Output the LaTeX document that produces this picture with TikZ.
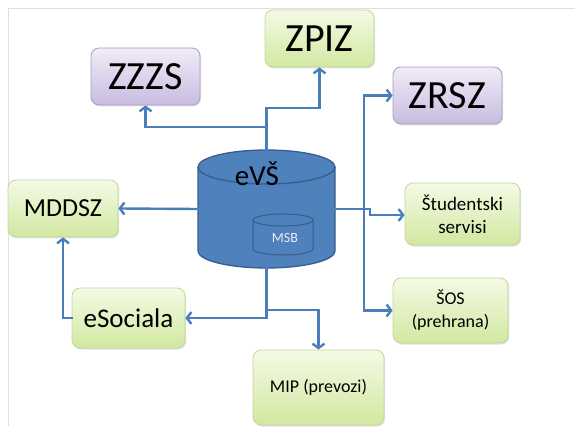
\documentclass[tikz,border=0pt]{standalone}
\usepackage{fontspec}
\setmainfont{Carlito}
\usepackage{tikz}
\usetikzlibrary{
    arrows.meta,
    shadows
}
\definecolor{linkBlue}{RGB}{74, 126, 187}
\definecolor{dbBlue}{RGB}{79, 129, 189}
\definecolor{dbEdge}{RGB}{56, 93, 138}
\definecolor{greenTop}{RGB}{244, 250, 230}
\definecolor{greenBot}{RGB}{210, 232, 160}
\definecolor{greenEdge}{RGB}{195, 214, 155}
\definecolor{lilaTop}{RGB}{240, 236, 248}
\definecolor{lilaBot}{RGB}{200, 188, 224}
\definecolor{lilaEdge}{RGB}{170, 155, 200}

\begin{document}
\begin{tikzpicture}[x=1pt, y=1pt,
        box/.style={rounded corners=8pt, line width=0.8pt, align=center,
            drop shadow={opacity=0.25, shadow xshift=1.2pt, shadow yshift=-1.5pt}},
        greenbox/.style={box, draw=greenEdge, top color=greenTop, bottom color=greenBot},
        lilabox/.style={box, draw=lilaEdge, top color=lilaTop, bottom color=lilaBot},
        wire/.style={draw=linkBlue, line width=2.4pt, line cap=rect},
        link/.style={wire, -{Straight Barb[length=4.5pt, width=12pt]}}
    ]
    \useasboundingbox (0,0) rectangle (575,426);
    \draw[gray!25, line width=1pt] (8,0) -- (8,417) -- (575,417);

    % database
    \node[minimum width=137pt, minimum height=118pt, inner sep=0] (evs) at (266.5,217) {};
    \begin{scope}[shift={(266.5,217)}, line width=1.3pt]
        \fill[dbBlue] (-68.5,42) -- (-68.5,-42) arc[start angle=180, end angle=360, x radius=68.5, y radius=17]
            -- (68.5,42) -- cycle;
        \draw[dbEdge] (-68.5,42) -- (-68.5,-42) arc[start angle=180, end angle=360, x radius=68.5, y radius=17]
            -- (68.5,42);
        \draw[dbEdge, fill=dbBlue] (0,42) ellipse[x radius=68.5, y radius=17];
        % inner store
        \draw[dbEdge, fill=dbBlue, line width=1pt] (-13.5,-11) -- (-13.5,-40)
            arc[start angle=180, end angle=360, x radius=30, y radius=6] -- (46.5,-11);
        \draw[dbEdge, fill=dbBlue, line width=1pt] (16.5,-11) ellipse[x radius=30, y radius=6];
    \end{scope}
    \node[font=\fontsize{29}{32}\selectfont] (evslabel) at (257,252) {eVŠ};
    \node[font=\fontsize{14}{16}\selectfont, text=white!92!black] (msb) at (285,188) {MSB};

    % outer systems
    \node[lilabox, minimum width=109pt, minimum height=57pt, font=\fontsize{40}{44}\selectfont] (zzzs) at (145.5,349.5) {ZZZS};
    \node[greenbox, minimum width=109pt, minimum height=57pt, font=\fontsize{40}{44}\selectfont] (zpiz) at (319.5,387.5) {ZPIZ};
    \node[lilabox, minimum width=109pt, minimum height=57pt, font=\fontsize{40}{44}\selectfont] (zrsz) at (447.5,330.5) {ZRSZ};
    \node[greenbox, minimum width=115pt, minimum height=62pt, font=\fontsize{19}{23}\selectfont] (stud) at (462.5,212) {Študentski\\servisi};
    \node[greenbox, minimum width=115pt, minimum height=65pt, font=\fontsize{18}{23}\selectfont] (sos) at (450.5,115.5) {ŠOS\\(prehrana)};
    \node[greenbox, minimum width=131pt, minimum height=75pt, font=\fontsize{18}{22}\selectfont] (mip) at (318.5,38.5) {MIP (prevozi)};
    \node[greenbox, minimum width=110pt, minimum height=57pt, font=\fontsize{26}{30}\selectfont] (mddsz) at (63,217.5) {MDDSZ};
    \node[greenbox, minimum width=113pt, minimum height=60pt, font=\fontsize{27}{30}\selectfont] (esoc) at (128.5,108) {eSociala};

    % connectors
    \coordinate (up) at (266.5,299);
    \coordinate (upr) at (266.5,318);
    \coordinate (rt) at (364,217);
    \coordinate (dn) at (266.5,116);
    \draw[wire] (evs.north) -- (up);
    \draw[link] (up) -| (zzzs.south);
    \draw[link] (up) -- (upr) -| (zpiz.south);
    \draw[wire] (evs.east) -- (370,217) -- (370,211);
    \draw[link] (370,211) -- (stud.west |- 0,211);
    \draw[link] (rt) |- (zrsz.west);
    \draw[link] (rt) |- (sos.west);
    \draw[link] (evs.west) -- (mddsz.east);
    \draw[link] (evs.south) |- (esoc.east);
    \draw[link] (dn) -| (mip.north);
    \draw[link] (esoc.west) -| (mddsz.south);
\end{tikzpicture}
\end{document}
